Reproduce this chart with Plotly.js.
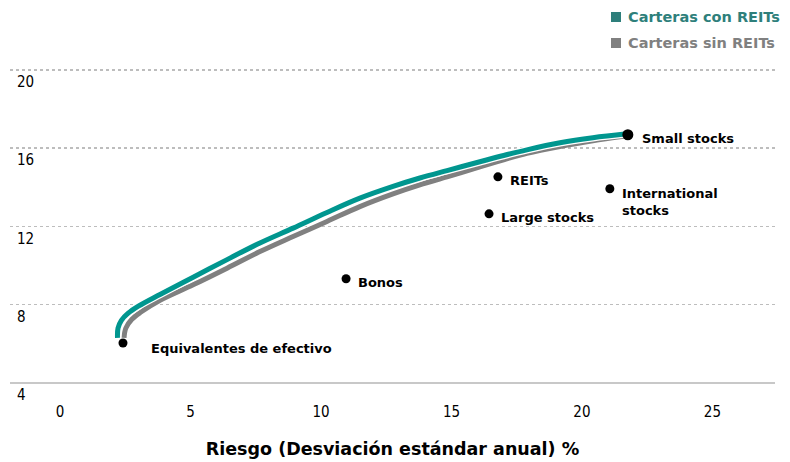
<!DOCTYPE html>
<html>
<head>
<meta charset="utf-8">
<script src="https://cdn.plot.ly/plotly-3.0.1.min.js"></script>
<style>html,body{margin:0;padding:0;background:#fff}#chart{width:790px;height:462px}</style>
</head>
<body>
<div id="chart"></div>
<script>
// Frontier with REITs (risk %, return %)
const conREITsRisk = [2.2,2.22,2.35,2.6,3.0,3.83,5.10,6.40,7.66,8.93,10.23,11.49,12.76,13.79,14.83,16.09,17.0,17.89,19.16,20.42,21.72];
const conREITsRet  = [6.3,6.8,7.2,7.55,7.92,8.52,9.40,10.30,11.15,11.91,12.71,13.44,14.04,14.47,14.85,15.30,15.62,15.91,16.27,16.53,16.73];
// Frontier without REITs
const sinREITsRisk = [2.45,2.52,2.75,3.1,3.83,5.10,6.40,7.66,8.93,10.23,11.49,12.76,13.79,14.83,16.09,17.0,17.89,19.16,20.42,21.6];
const sinREITsRet  = [6.3,6.8,7.25,7.62,8.22,9.01,9.86,10.71,11.48,12.25,13.01,13.66,14.12,14.53,15.04,15.40,15.73,16.08,16.37,16.6];
// Asset classes
const assetNames = ["Equivalentes de efectivo","Bonos","Large stocks","REITs","International<br>stocks","Small stocks"];
const assetRisk  = [2.41,10.96,16.44,16.78,21.07,21.76];
const assetRet   = [6.04,9.32,12.64,14.53,13.92,16.68];
// Axis ticks
const xTicks = [0,5,10,15,20,25];
const yTicks = [4,8,12,16,20];
const seriesNames = ["Carteras con REITs","Carteras sin REITs"];

// label offsets (px) for each asset label
const labelShift = [[26,-6],[10,-4],[10,-4],[10,-4],[10,-13],[12,-4]];
const markerSizes = [9,9,9,9,9,11];

const teal = "#00968f";
const gray = "#808080";

const traces = [
  {x: sinREITsRisk, y: sinREITsRet, mode:"lines", line:{color:gray,width:5,shape:"spline",smoothing:1}, hoverinfo:"skip", showlegend:false},
  {x: conREITsRisk, y: conREITsRet, mode:"lines", line:{color:"#ffffff",width:7.5,shape:"spline",smoothing:1}, hoverinfo:"skip", showlegend:false},
  {x: conREITsRisk, y: conREITsRet, mode:"lines", line:{color:teal,width:5,shape:"spline",smoothing:1}, showlegend:false},
  {x: assetRisk, y: assetRet, mode:"markers", marker:{color:"#000000",size:markerSizes,opacity:1,line:{width:0}}, showlegend:false}
];

const annotations = assetNames.map((n,i)=>({
  x: assetRisk[i], y: assetRet[i], xref:"x", yref:"y", text:n, showarrow:false,
  xanchor:"left", yanchor:"middle", align:"left", xshift:labelShift[i][0], yshift:labelShift[i][1],
  font:{family:"DejaVu Sans", size:13, color:"#000", weight:"bold"}
}));

// plot area geometry (px) for legend placement
const plotTop = 60, plotB = 38, plotL = 10, plotW = 765;
const plotH = 462 - plotTop - plotB;
const legColors = ["#2e7f7b", gray];
const legTextColors = ["#2e7f7b", "#808080"];
const shapes = [];
seriesNames.forEach((n,i)=>{
  const yp = i===0 ? 17 : 43;
  annotations.push({xref:"paper", yref:"paper", x:(626-plotL)/plotW, y:1-(yp-plotTop)/plotH, text:n, showarrow:false,
    xanchor:"left", yanchor:"middle", font:{family:"DejaVu Sans", size:14.5, color:legTextColors[i], weight:"bold"}});
  shapes.push({type:"rect", xref:"paper", yref:"paper",
    x0:(611-plotL)/plotW, x1:(621-plotL)/plotW, y0:1-(yp+5-plotTop)/plotH, y1:1-(yp-5-plotTop)/plotH,
    fillcolor:legColors[i], line:{width:0}});
});
// solid baseline at the lowest y tick
shapes.push({type:"line", xref:"paper", yref:"y", x0:0, x1:1, y0:yTicks[0], y1:yTicks[0],
  line:{color:"#c8c8c8", width:2}, layer:"above"});

const layout = {
  width:790, height:462,
  margin:{l:plotL, r:15, t:plotTop, b:plotB},
  paper_bgcolor:"#fff", plot_bgcolor:"#fff",
  font:{family:"DejaVu Sans", color:"#000"},
  xaxis:{
    range:[-1.92,27.4], tickvals:xTicks, ticktext:xTicks.map(String),
    showgrid:false, zeroline:false, showline:false,
    ticks:"", ticklabelposition:"inside", ticklabelstandoff:1,
    tickfont:{family:"DejaVu Sans Condensed", size:15, color:"#000"},
    title:{text:"Riesgo (Desviación estándar anual) %", font:{family:"DejaVu Sans", size:17.5, weight:"bold", color:"#000"}, standoff:22}
  },
  yaxis:{
    range:[1.9,20.5], tickvals:yTicks, ticktext:yTicks.map(String),
    showgrid:true, gridcolor:"#bdbdbd", griddash:"dot", gridwidth:1.5,
    zeroline:false, showline:false, ticks:"",
    ticklabelposition:"inside", ticklabelstandoff:4, ticklabelshift:12,
    tickfont:{family:"DejaVu Sans Condensed", size:15, color:"#000"}
  },
  annotations: annotations,
  shapes: shapes,
  showlegend:false
};

Plotly.newPlot("chart", traces, layout, {displayModeBar:false, staticPlot:true});
</script>
</body>
</html>
